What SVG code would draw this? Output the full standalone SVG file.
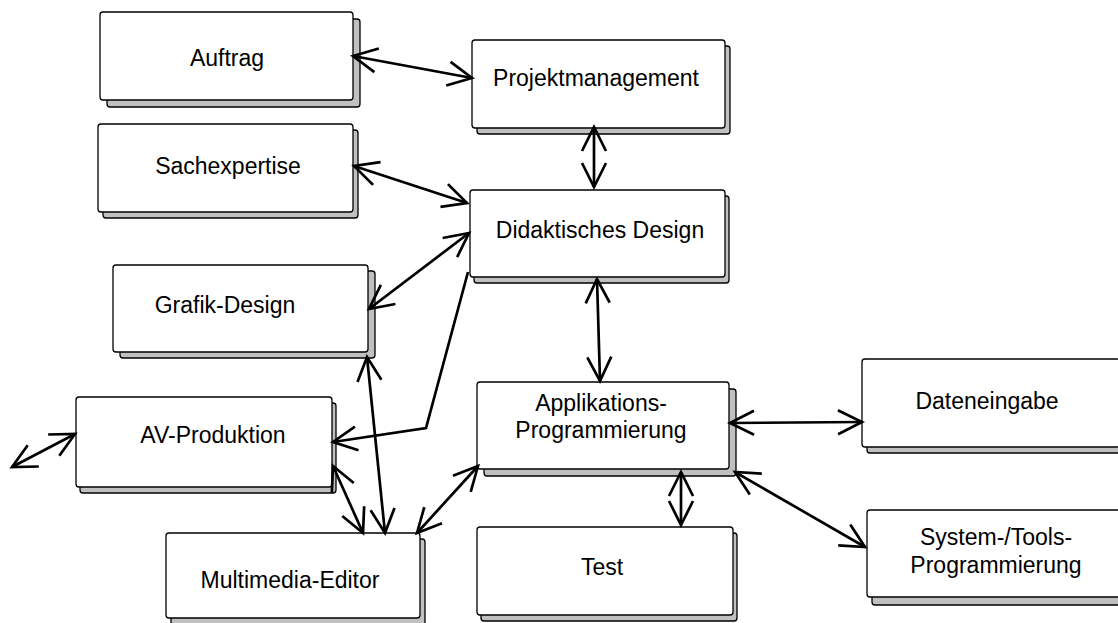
<svg xmlns="http://www.w3.org/2000/svg" width="1118" height="623" viewBox="0 0 1118 623">
<style>
.sh{fill:#c0c0c0;stroke:#000;stroke-width:1.3}
.bx{fill:#fff;stroke:#000;stroke-width:1.3}
text{font-family:"Liberation Sans",Arial,sans-serif;font-size:23px;fill:#000;text-anchor:middle}
.c{fill:none;stroke:#000;stroke-width:2.7}
</style>
<defs>
<marker id="arr" markerUnits="userSpaceOnUse" markerWidth="60" markerHeight="60" refX="0" refY="0" orient="auto-start-reverse" overflow="visible">
<path d="M-24,-12 L0,0 L-24,12" fill="none" stroke="#000" stroke-width="2.7"/>
</marker>
</defs>
<rect width="1118" height="623" fill="#fff"/>
<g id="n-auftrag"><rect class="sh" x="107" y="19" width="253" height="88" rx="3"/><rect class="bx" x="100" y="12" width="253" height="88" rx="3"/><text x="227" y="66">Auftrag</text></g>
<g id="n-projekt"><rect class="sh" x="477" y="46" width="253" height="88" rx="3"/><rect class="bx" x="472" y="40" width="253" height="88" rx="3"/><text x="596" y="86">Projektmanagement</text></g>
<g id="n-sach"><rect class="sh" x="103" y="130" width="255" height="88" rx="3"/><rect class="bx" x="98" y="124" width="255" height="88" rx="3"/><text x="228" y="174">Sachexpertise</text></g>
<g id="n-didakt"><rect class="sh" x="474" y="196" width="255" height="87" rx="3"/><rect class="bx" x="470" y="190" width="255" height="87" rx="3"/><text x="600" y="238">Didaktisches Design</text></g>
<g id="n-grafik"><rect class="sh" x="120" y="271" width="255" height="87" rx="3"/><rect class="bx" x="113" y="265" width="255" height="87" rx="3"/><text x="225" y="313">Grafik-Design</text></g>
<g id="n-av"><rect class="sh" x="80" y="403" width="256" height="90" rx="3"/><rect class="bx" x="76" y="397" width="256" height="90" rx="3"/><text x="213" y="443">AV-Produktion</text></g>
<g id="n-mm"><rect class="sh" x="171" y="539" width="254" height="86" rx="3"/><rect class="bx" x="166" y="533" width="254" height="85" rx="3"/><text x="290" y="588">Multimedia-Editor</text></g>
<g id="n-app"><rect class="sh" x="484" y="389" width="252" height="87" rx="3"/><rect class="bx" x="477" y="382" width="252" height="87" rx="3"/><text x="601" y="411">Applikations-</text><text x="601" y="438">Programmierung</text></g>
<g id="n-test"><rect class="sh" x="481" y="533" width="256" height="88" rx="3"/><rect class="bx" x="477" y="527" width="256" height="88" rx="3"/><text x="602" y="575">Test</text></g>
<g id="n-daten"><rect class="sh" x="867" y="365" width="258" height="88" rx="3"/><rect class="bx" x="862" y="359" width="258" height="88" rx="3"/><text x="987" y="409">Dateneingabe</text></g>
<g id="n-system"><rect class="sh" x="872" y="517" width="258" height="88" rx="3"/><rect class="bx" x="867" y="510" width="258" height="87" rx="3"/><text x="996" y="545">System-/Tools-</text><text x="996" y="573">Programmierung</text></g>
<g id="connectors">
<line class="c" x1="353" y1="56" x2="472" y2="78" marker-start="url(#arr)" marker-end="url(#arr)"/>
<line class="c" x1="594" y1="127" x2="594" y2="187" marker-start="url(#arr)" marker-end="url(#arr)"/>
<line class="c" x1="354" y1="166" x2="467" y2="203" marker-start="url(#arr)" marker-end="url(#arr)"/>
<line class="c" x1="469" y1="233" x2="369" y2="309" marker-start="url(#arr)" marker-end="url(#arr)"/>
<polyline class="c" points="468,272 426,428 333,442" marker-end="url(#arr)"/>
<line class="c" x1="367" y1="357" x2="385" y2="533" marker-start="url(#arr)" marker-end="url(#arr)"/>
<line class="c" x1="333" y1="466" x2="363" y2="533" marker-start="url(#arr)" marker-end="url(#arr)"/>
<line class="c" x1="417" y1="533" x2="478" y2="466" marker-start="url(#arr)" marker-end="url(#arr)"/>
<line class="c" x1="597" y1="279" x2="600" y2="381" marker-start="url(#arr)" marker-end="url(#arr)"/>
<line class="c" x1="730" y1="423" x2="862" y2="422" marker-start="url(#arr)" marker-end="url(#arr)"/>
<line class="c" x1="735" y1="472" x2="865" y2="547" marker-start="url(#arr)" marker-end="url(#arr)"/>
<line class="c" x1="681" y1="472" x2="681" y2="525" marker-start="url(#arr)" marker-end="url(#arr)"/>
<line class="c" x1="75" y1="434" x2="12" y2="467" marker-start="url(#arr)" marker-end="url(#arr)"/>
</g>
</svg>
